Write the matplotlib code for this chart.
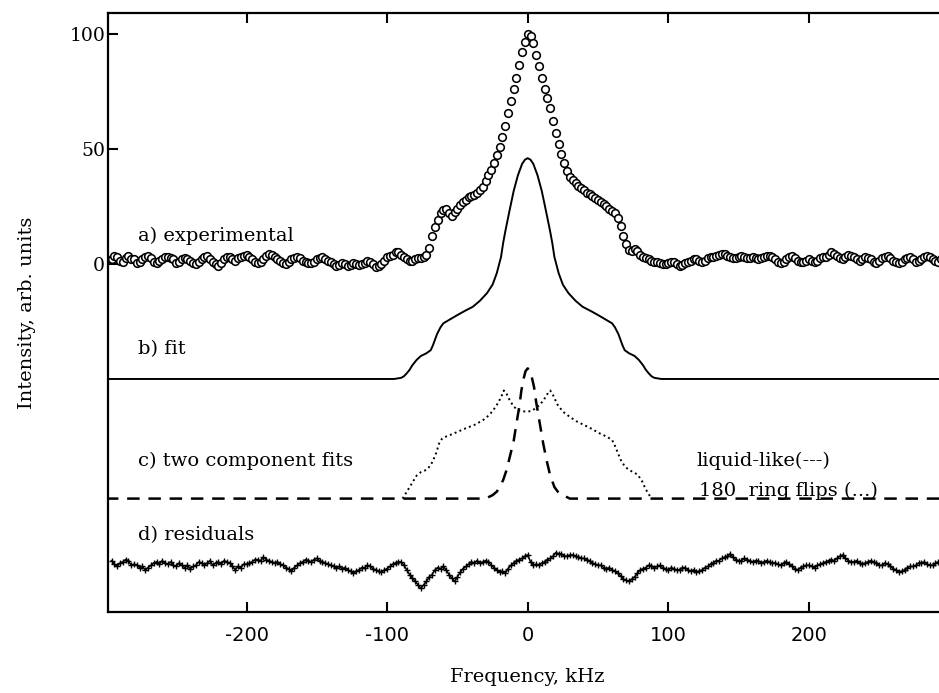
import numpy as np
import matplotlib
matplotlib.use("Agg")
import matplotlib.pyplot as plt

plt.rcParams['axes.unicode_minus'] = False
serif = ['DejaVu Serif']

# a) experimental spectrum (circles), 2 kHz grid from -296 to 296
freq = np.arange(-296, 297, 2)
exp_int = [2, 3.5, 3, 1.5, 1, 2.5, 3.5, 2, 2, 0.5,          # -296
           1, 2, 3, 3.5, 2.5, 1, 0.5, 1.5, 2, 3,            # -276
           3, 2.5, 2, 0.5, 1, 2, 2.5, 2, 1.5, 0.5,          # -256
           0, 1, 2, 3, 3.5, 2, 1, 0, -1, 0.5,               # -236
           2, 3, 3, 2, 1.5, 2.5, 3, 3.5, 4, 3,              # -216
           2, 1, 0.5, 1, 2, 3.5, 4.5, 4, 3, 2,              # -196
           1.5, 0.5, 0, 1, 2, 2.5, 3, 2.5, 1.5, 1,          # -176
           0.5, 0.5, 1, 2, 2.5, 3, 2, 1.5, 1, 0,            # -156
           -1, -0.5, 0.5, 0, -1, -0.5, 0.5, 0, -0.5, 0,     # -136
           0.5, 1.5, 1, 0, -1.5, -1, 0, 1.5, 3, 3.5,        # -116
           4, 5, 5, 4, 3, 2, 1.5, 1.5, 2, 2.5,              # -96
           2.5, 3, 4, 7, 12, 16, 19, 22, 23.5, 24,          # -76
           22, 21, 22.5, 24, 25.5, 27, 28, 29, 29.5, 30,    # -56
           31, 32, 33.5, 36, 38.5, 41, 44, 47.5, 51, 55,    # -36
           60, 65.5, 71, 76, 81, 86.5, 92, 96.5, 100, 99,   # -16
           96, 91, 86, 81, 76, 72, 68, 62, 57, 52,          # 4
           48, 44, 40.5, 38, 36.5, 35, 34, 33, 32, 31,      # 24
           30.5, 29.5, 28.5, 28, 27, 26, 25, 24, 23, 22,    # 44
           20, 16.5, 12, 8.5, 6, 5.5, 6.5, 5.5, 4, 3,       # 64
           2.5, 2, 1.5, 1, 1, 0.5, 0, 0, 0.5, 1,            # 84
           1, 0, -1, -0.5, 0.5, 1, 1.5, 2, 2, 1.5,          # 104
           1, 1.5, 2.5, 3, 3, 3.5, 4, 4.5, 4.5, 3.5,        # 124
           3, 2.5, 2.5, 3, 3.5, 3, 2.5, 2.5, 3, 2.5,        # 144
           2, 2.5, 3, 3.5, 3.5, 3, 2, 1, 0.5, 1,            # 164
           2, 3, 3.5, 2.5, 1.5, 1, 1, 1.5, 2, 1.5,          # 184
           1, 1.5, 2.5, 3, 3, 4, 5, 4.5, 3.5, 2.5,          # 204
           2, 3, 4, 3.5, 3, 2, 1.5, 2, 3, 2.5,              # 224
           2, 1, 0.5, 1.5, 2.5, 3, 3.5, 2.5, 1.5, 1,        # 244
           0.5, 1, 2, 2.5, 3, 2, 1, 1.5, 2, 3,              # 264
           3.5, 3, 2, 1.5, 1, 2, 3]                         # 284

# d) residuals (+ markers), same grid
resid = [1, -0.5, -1.5, 0, 0.5, 1.5, 1, -1, -0.5, -1,
         -2, -1.5, -3, -2, -1, 0, 0.5, -0.5, 1, 0,
         -0.5, 0.5, -1, -1.5, 0, -1, -2, -1, -2.5, -1.5,
         -1, 0.5, 0, -1, 0, 1, -1, 0, 0.5, -0.5,
         1, 0.5, 0, -1.5, -3, -1.5, -2, -0.5, -0.5, 0,
         0.5, 1.5, 1.5, 1, 2.5, 1.5, 1, 0.5, 0, 0.5,
         -0.5, -1, -2, -2.5, -3.5, -2, -1, 0, 0.5, 1.5,
         1, 0.5, 1.5, 2, 1, 0.5, 0, -0.5, -1, -1.5,
         -2, -1.5, -2.5, -2, -3, -3.5, -4.5, -3.5, -3, -2,
         -2, -1, -1.5, -2.5, -3, -3.5, -4, -3, -2.5, -1.5,
         -0.5, 0, 0.5, 0.5, -1, -3, -5, -6.5, -8, -9.5,
         -11, -9.5, -8, -6, -5, -3, -2, -2.5, -1.5, -3,
         -5, -6.5, -8, -6, -4, -2.5, -1.5, -0.5, 0.5, 0,
         1, 0, 0.5, 1, 0.5, -1, -2, -3, -4, -3.5,
         -4.5, -2.5, -1, 0, 1, 1.5, 2, 3, 3.5, 0.5,
         -1, -0.5, -1, 0, 0.5, 1.5, 2, 3, 4.5, 4,
         4, 3, 3, 3.5, 3.5, 3, 2.5, 2, 2, 1.5,
         1, 0, -0.5, -1, -1, -2, -2.5, -2, -3, -3.5,
         -4.5, -5.5, -7, -7.5, -8, -7, -6, -4.5, -3, -2.5,
         -2, -1, -1.5, -2, -1.5, -1, -2, -2.5, -3, -2,
         -2.5, -3, -3, -2, -2, -3, -3.5, -3, -4, -3.5,
         -3, -2, -1.5, -0.5, 0, 1, 1, 2, 2.5, 3,
         4, 2.5, 1.5, 1, 1, 2, 1.5, 1, 0.5, 1,
         1, 0, 0.5, 1, 0.5, 0, 0, -0.5, -1, 0,
         0.5, -0.5, -1.5, -2.5, -3, -2, -1.5, -1, -1, -1.5,
         -2, -1, -0.5, 0, 0.5, 1, 1.5, 1, 2, 3,
         3.5, 2, 1, 0.5, 0.5, 1, 0, -0.5, 0, 0.5,
         1, 0.5, 0, -1, -1, 0, -0.5, -1.5, -2.5, -3,
         -4, -3.5, -3, -2, -1.5, -1.5, -1, 0, 0, 0.5,
         -0.5, -1, -1, 0, 0.5, 0, 0]

# b) total fit (solid)
fit_x = [-300, -95, -90, -88, -86, -84, -82, -79, -76, -72, -69, -67.5, -66, -64.5,
         -62, -60, -55, -50, -45, -39, -34, -29, -25, -22, -19, -17.5, -16, -13,
         -10, -7, -4, -2, 0, 2, 4, 7, 10, 13, 16, 17.5, 19, 22, 25, 29, 34, 39,
         45, 50, 55, 60, 62, 64.5, 66, 67.5, 69, 72, 76, 79, 82, 84, 86, 88, 90,
         95, 300]
fit_y = [0, 0, 0.5, 1.2, 2.5, 4, 6, 8.3, 10, 11.2, 12.5, 14.5, 17, 19.5,
         22.5, 24.2, 26, 27.8, 29.5, 31.4, 34, 37.3, 41, 46, 53, 59, 64, 73,
         81.7, 88.5, 93.5, 95.3, 96, 95.3, 93.5, 88.5, 81.7, 73, 64, 59, 53, 46, 41, 37.3, 34, 31.4,
         29.5, 27.8, 26, 24.2, 22.5, 19.5, 17, 14.5, 12.5, 11.2, 10, 8.3, 6, 4, 2.5, 1.2, 0.5,
         0, 0]

# c) components: liquid-like (dashed) and 180 ring flips (dotted)
liq_x = [-300, -30, -25, -22, -20, -17.5, -15, -12.8, -10, -8, -6, -4.5, -3, -1.5, 0,
         1.5, 3, 4.5, 6, 8.5, 11, 13.3, 16, 19, 22, 25, 30, 300]
liq_y = [0, 0, 1.5, 3, 5, 8, 12.5, 18, 25, 32.7, 40, 47, 52, 55.5, 56.6,
         55.5, 52.5, 48.5, 42, 33, 24, 17, 10, 5, 2.5, 1.5, 0, 0]
flip_x = [-89, -86, -84, -81, -79, -76, -72, -69, -67, -65, -63, -61, -58, -55, -50,
          -44, -38, -32, -28, -25, -22, -19, -17, -15, -13, -10, -7, -4, -1, 2, 5,
          8, 11, 14, 16, 18, 21, 25, 30, 35, 40, 45, 51, 56, 60, 62, 64, 66, 69,
          72, 75, 78, 81, 84, 86, 88]
flip_y = [0, 3, 5, 8, 10, 11.5, 12.5, 14.5, 17, 20, 24, 26, 27, 27.7, 29,
          30.6, 32, 34, 36, 38, 40.7, 44, 47, 45.5, 43, 40, 38.5, 38, 37.8, 38, 39,
          40.5, 42.5, 45.5, 47, 45, 41, 37.8, 35.5, 33.5, 32, 30.5, 28.4, 27, 25.5, 23, 20, 17, 14,
          12.5, 11.5, 10.5, 8, 4, 2, 0]

off_b, off_c, off_d = -50, -102, -130

fig = plt.figure(figsize=(9.39, 6.93), dpi=100)
ax = fig.add_axes([108/939, 81/693, 831/939, 599/693])

ax.plot(freq, exp_int, 'o', ms=5.5, mfc='white', mec='black', mew=1.15)
ax.plot(fit_x, np.array(fit_y) + off_b, '-', color='black', lw=1.4)
ax.plot(liq_x, np.array(liq_y) + off_c, color='black', lw=1.8, dashes=(5, 3.5))
ax.plot(flip_x, np.array(flip_y) + off_c, ':', color='black', lw=1.4)
ax.plot(freq, np.array(resid) + off_d, '-+', color='black', lw=1.1, ms=5, mew=1.0)

txt = dict(family=serif, fontsize=14)
ax.text(-277, 10, 'a) experimental', **txt)
ax.text(-277, -39, 'b) fit', **txt)
ax.text(-277, -88, 'c) two component fits', **txt)
ax.text(-277, -120, 'd) residuals', **txt)
ax.text(120, -88, 'liquid-like(---)', **txt)
ax.text(122, -101, '180  ring flips (...)', **txt)

ax.set_xlim(-298.5, 292.5)
ax.set_ylim(-151.3, 109.1)
ax.set_xticks([-200, -100, 0, 100, 200])
ax.set_yticks([0, 50, 100])
ax.spines['right'].set_visible(False)
for s in ['left', 'top', 'bottom']:
    ax.spines[s].set_linewidth(1.6)
ax.tick_params(axis='both', direction='in', length=7, width=1.5, top=True)
ax.tick_params(axis='x', labelsize=14, pad=10)
ax.tick_params(axis='y', pad=2)
for lab in ax.get_yticklabels():
    lab.set_family(serif)
    lab.set_fontsize(13.5)

ax.set_ylabel('Intensity, arb. units', family=serif, fontsize=14, labelpad=24)
fig.text(527/939, 1 - 677/693, 'Frequency, kHz', family=serif, fontsize=14,
         ha='center', va='center')

fig.savefig('out.png', dpi=100)
